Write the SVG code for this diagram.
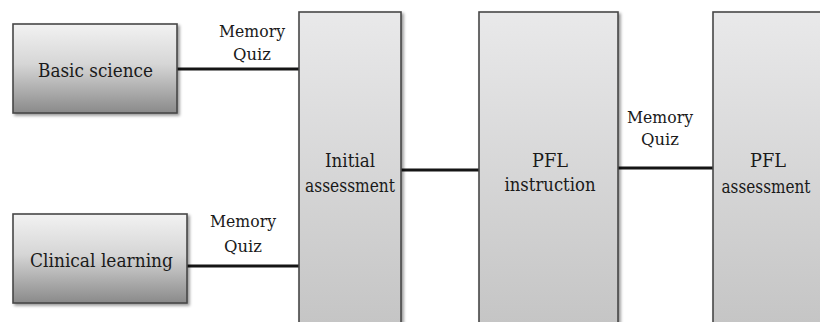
<svg xmlns="http://www.w3.org/2000/svg" width="820" height="322" viewBox="0 0 820 322">
<defs>
<linearGradient id="gSmall" x1="0" y1="0" x2="0" y2="1">
<stop offset="0" stop-color="#f2f2f2"/>
<stop offset="0.45" stop-color="#d6d6d6"/>
<stop offset="1" stop-color="#8a8a8a"/>
</linearGradient>
<linearGradient id="gTall" x1="0" y1="0" x2="0" y2="1">
<stop offset="0" stop-color="#e9e9ea"/>
<stop offset="1" stop-color="#c4c4c4"/>
</linearGradient>
<filter id="sh" x="-10%" y="-10%" width="125%" height="125%">
<feGaussianBlur in="SourceAlpha" stdDeviation="1.5"/>
<feOffset dx="2" dy="2" result="b"/>
<feComponentTransfer><feFuncA type="linear" slope="0.4"/></feComponentTransfer>
<feMerge><feMergeNode/><feMergeNode in="SourceGraphic"/></feMerge>
</filter>
</defs>
<style>
.box{stroke:#474747;stroke-width:1.6}
.small{fill:url(#gSmall)}
.tall{fill:url(#gTall)}
.edge{stroke:#151515;stroke-width:3;fill:none}
</style>
<rect width="820" height="322" fill="#ffffff"/>
<g id="connectors">
<line class="edge" x1="177" y1="69" x2="299" y2="69"/>
<line class="edge" x1="187" y1="266" x2="299" y2="266"/>
<line class="edge" x1="401" y1="170" x2="479" y2="170"/>
<line class="edge" x1="618" y1="168" x2="713" y2="168"/>
<g font-family="DejaVu Serif, serif" font-size="17.5" fill="#1a1a1a" text-anchor="middle">
<text x="252" y="37" textLength="66" lengthAdjust="spacingAndGlyphs">Memory</text>
<text x="252" y="60" textLength="38" lengthAdjust="spacingAndGlyphs">Quiz</text>
<text x="243" y="227" textLength="66" lengthAdjust="spacingAndGlyphs">Memory</text>
<text x="243" y="252" textLength="38" lengthAdjust="spacingAndGlyphs">Quiz</text>
<text x="660" y="123" textLength="66" lengthAdjust="spacingAndGlyphs">Memory</text>
<text x="660" y="145" textLength="38" lengthAdjust="spacingAndGlyphs">Quiz</text>
</g>
</g>
<g font-family="DejaVu Serif, serif" font-size="19" fill="#1a1a1a" text-anchor="middle">
<g id="basic-science">
<rect class="box small" x="13" y="24" width="164" height="89" filter="url(#sh)"/>
<text x="95.5" y="77" textLength="115" lengthAdjust="spacingAndGlyphs">Basic science</text>
</g>
<g id="clinical-learning">
<rect class="box small" x="13" y="214" width="174" height="89" filter="url(#sh)"/>
<text x="101.5" y="267" textLength="143" lengthAdjust="spacingAndGlyphs">Clinical learning</text>
</g>
<g id="initial-assessment">
<rect class="box tall" x="299" y="12" width="102" height="320" filter="url(#sh)"/>
<text x="350" y="167" textLength="50" lengthAdjust="spacingAndGlyphs">Initial</text>
<text x="350" y="192" textLength="90" lengthAdjust="spacingAndGlyphs">assessment</text>
</g>
<g id="pfl-instruction">
<rect class="box tall" x="479" y="12" width="139" height="320" filter="url(#sh)"/>
<text x="550" y="167" textLength="36" lengthAdjust="spacingAndGlyphs">PFL</text>
<text x="550" y="191" textLength="91" lengthAdjust="spacingAndGlyphs">instruction</text>
</g>
<g id="pfl-assessment">
<rect class="box tall" x="713" y="12" width="130" height="320" filter="url(#sh)"/>
<text x="768" y="167" textLength="36" lengthAdjust="spacingAndGlyphs">PFL</text>
<text x="766" y="193" textLength="89" lengthAdjust="spacingAndGlyphs">assessment</text>
</g>
</g>
</svg>
